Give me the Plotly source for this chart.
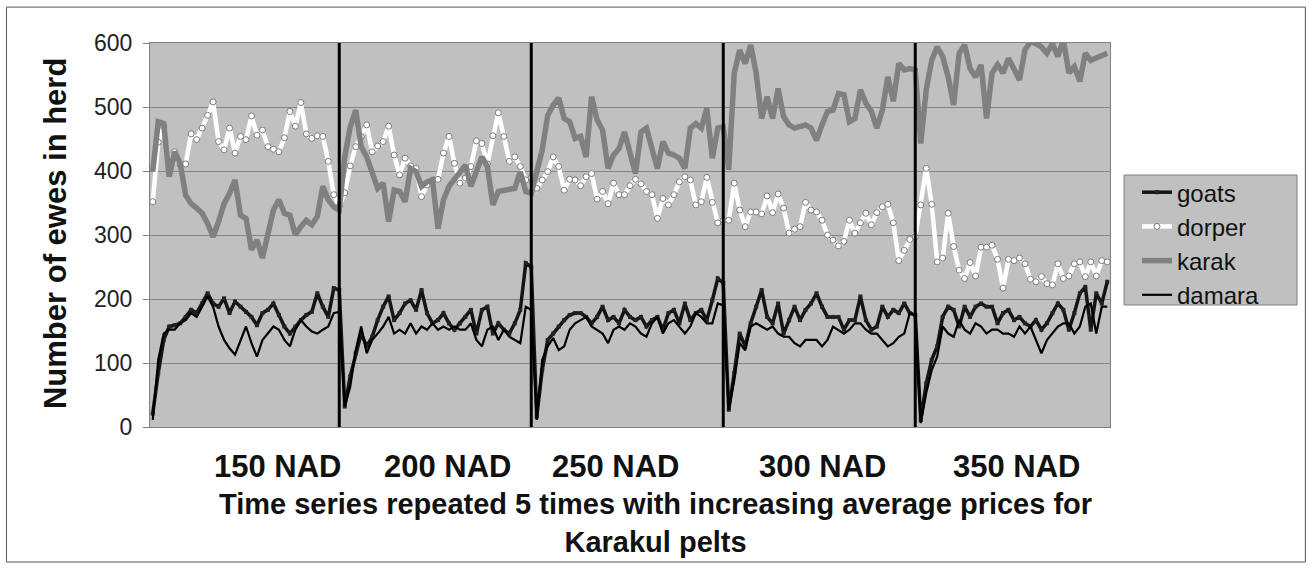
import plotly.graph_objects as go

# ---- data (5 repeated time series of 35 steps each) ----
SEG_LEN = 35
price_labels = ["150 NAD", "200 NAD", "250 NAD", "300 NAD", "350 NAD"]

goats = [
    21, 84, 136, 157, 159, 162, 172, 183, 178, 193, 209, 193, 188, 201, 178, 196, 188, 180, 172, 159, 178, 183, 193, 175, 157, 146, 157, 167, 175, 180, 209, 188, 172, 217, 214,
    32, 79, 115, 146, 126, 141, 167, 188, 204, 167, 178, 193, 198, 183, 214, 178, 162, 167, 178, 162, 152, 162, 172, 183, 146, 183, 188, 146, 162, 152, 146, 162, 183, 256, 250,
    16, 89, 136, 146, 157, 167, 175, 178, 178, 172, 162, 172, 188, 167, 172, 162, 183, 172, 167, 172, 157, 167, 172, 152, 178, 183, 162, 193, 167, 178, 183, 167, 198, 232, 225,
    27, 84, 146, 126, 162, 188, 214, 172, 162, 193, 146, 167, 188, 167, 183, 193, 209, 188, 172, 172, 172, 152, 167, 167, 204, 167, 152, 157, 188, 172, 183, 178, 193, 178, 175,
    11, 68, 105, 126, 172, 188, 183, 157, 188, 172, 188, 193, 188, 188, 162, 178, 183, 167, 172, 162, 157, 167, 152, 162, 178, 193, 183, 152, 178, 209, 219, 152, 209, 193, 227,
]

dorper = [
    352, 445, 470, 400, 430, 410, 411, 458, 449, 467, 487, 508, 446, 433, 467, 428, 454, 449, 486, 456, 464, 438, 434, 430, 452, 493, 470, 507, 458, 451, 455, 454, 415, 363, 345,
    366, 408, 438, 454, 472, 430, 439, 446, 470, 425, 394, 420, 408, 404, 360, 378, 386, 387, 428, 454, 412, 381, 389, 407, 447, 443, 411, 455, 491, 454, 415, 422, 407, 386, 390,
    373, 386, 399, 422, 407, 370, 387, 386, 377, 391, 396, 356, 368, 349, 381, 363, 363, 377, 387, 380, 368, 363, 326, 357, 347, 363, 383, 391, 386, 347, 352, 390, 351, 319, 323,
    323, 381, 339, 313, 336, 336, 333, 361, 335, 364, 342, 303, 309, 313, 351, 339, 336, 323, 300, 292, 283, 290, 323, 303, 319, 334, 316, 335, 344, 348, 319, 260, 276, 293, 297,
    347, 404, 348, 258, 264, 334, 282, 245, 232, 257, 236, 281, 281, 284, 262, 217, 262, 260, 264, 255, 231, 227, 235, 224, 222, 255, 232, 236, 255, 258, 235, 258, 236, 260, 258,
]

karak = [
    399, 477, 474, 391, 430, 412, 362, 349, 342, 334, 318, 297, 321, 349, 365, 386, 331, 326, 277, 292, 264, 303, 339, 355, 334, 331, 300, 313, 323, 316, 329, 376, 355, 344, 339,
    422, 469, 495, 438, 422, 396, 373, 381, 321, 370, 368, 352, 404, 399, 376, 383, 386, 310, 355, 376, 386, 396, 409, 376, 402, 422, 407, 347, 368, 370, 370, 373, 399, 368, 365,
    402, 433, 487, 503, 514, 482, 477, 451, 454, 422, 516, 480, 464, 404, 425, 435, 461, 430, 396, 461, 467, 435, 404, 446, 428, 425, 420, 404, 467, 474, 467, 498, 420, 467, 469,
    402, 553, 589, 568, 597, 553, 482, 516, 482, 529, 485, 472, 467, 469, 472, 467, 448, 472, 493, 495, 521, 519, 477, 482, 527, 506, 493, 467, 495, 547, 509, 568, 558, 560, 558,
    443, 527, 573, 594, 579, 547, 503, 584, 597, 560, 547, 566, 482, 553, 566, 553, 576, 558, 542, 589, 602, 599, 594, 584, 599, 579, 605, 553, 563, 540, 584, 573, 576, 581, 584,
]

damara = [
    11, 105, 146, 152, 152, 162, 167, 178, 172, 188, 204, 188, 157, 136, 123, 113, 136, 157, 131, 110, 136, 146, 157, 152, 136, 126, 152, 167, 157, 149, 146, 152, 157, 178, 180,
    32, 63, 120, 157, 115, 136, 146, 157, 172, 146, 152, 146, 162, 146, 157, 152, 162, 152, 157, 152, 157, 152, 152, 162, 136, 126, 152, 157, 136, 152, 141, 136, 131, 188, 183,
    11, 105, 126, 139, 120, 126, 152, 162, 167, 172, 157, 152, 146, 131, 152, 157, 152, 162, 157, 146, 141, 162, 172, 146, 162, 167, 157, 146, 157, 178, 172, 162, 162, 193, 190,
    27, 73, 131, 120, 157, 162, 157, 152, 157, 146, 141, 141, 131, 126, 136, 136, 136, 126, 136, 157, 152, 146, 152, 162, 162, 152, 146, 146, 136, 126, 131, 141, 146, 178, 175,
    6, 53, 89, 110, 157, 146, 141, 167, 152, 146, 162, 157, 146, 152, 152, 146, 146, 141, 157, 146, 157, 136, 115, 136, 146, 157, 162, 162, 146, 157, 188, 193, 146, 188, 188,
]

y_ticks = [0, 100, 200, 300, 400, 500, 600]

# ---- figure ----
n = len(goats)
t = list(range(n))
FONT = "Liberation Sans, Arial, sans-serif"

fig = go.Figure()
fig.add_trace(go.Scatter(x=t, y=goats, name="goats", mode="lines+markers",
                         line=dict(color="#141414", width=3.5),
                         marker=dict(symbol="square", size=4, color="#222222")))
fig.add_trace(go.Scatter(x=t, y=dorper, name="dorper", mode="lines+markers",
                         line=dict(color="#ffffff", width=4.5),
                         marker=dict(symbol="circle", size=6, color="#ffffff",
                                     line=dict(color="#7a7a7a", width=1))))
fig.add_trace(go.Scatter(x=t, y=karak, name="karak", mode="lines",
                         line=dict(color="#808080", width=5.5)))
fig.add_trace(go.Scatter(x=t, y=damara, name="damara", mode="lines",
                         line=dict(color="#000000", width=2.2)))

shapes = []
# segment separators at the end of each repeated series
for k in range(1, len(price_labels)):
    xb = k * SEG_LEN - 1
    shapes.append(dict(type="line", xref="x", yref="paper", x0=xb, x1=xb, y0=0, y1=1,
                       line=dict(color="#000000", width=3)))
# outer frame around the whole figure
shapes.append(dict(type="rect", xref="paper", yref="paper", x0=-0.1495, x1=1.2035,
                   y0=-0.3515, y1=1.0935, line=dict(color="#555555", width=1), layer="below"))
# legend box
shapes.append(dict(type="rect", xref="paper", yref="paper", x0=1.0146, x1=1.1948,
                   y0=0.3177, y1=0.6562, fillcolor="#c0c0c0",
                   line=dict(color="#7f7f7f", width=1), layer="below"))

label_x = [22.8, 53.8, 84.4, 122.2, 157.5]
annotations = []
for lx, lab in zip(label_x, price_labels):
    annotations.append(dict(x=lx, y=-0.104, xref="x", yref="paper", text=f"<b>{lab}</b>",
                            showarrow=False, xanchor="center", yanchor="middle",
                            font=dict(family=FONT, size=31, color="#111111")))
annotations.append(dict(x=0.527, y=-0.25, xref="paper", yref="paper",
                        text="<b>Time series repeated 5 times with increasing average prices for</b>"
                             "<br><b>Karakul pelts</b>",
                        showarrow=False, xanchor="center", yanchor="middle",
                        font=dict(family=FONT, size=29, color="#111111")))
annotations.append(dict(x=-0.099, y=0.505, xref="paper", yref="paper",
                        text="<b>Number of ewes in herd</b>", textangle=-90,
                        showarrow=False, xanchor="center", yanchor="middle",
                        font=dict(family=FONT, size=31, color="#111111")))

fig.update_layout(
    width=1314, height=569, autosize=False,
    margin=dict(l=150, r=204, t=43, b=142, pad=0),
    paper_bgcolor="#ffffff", plot_bgcolor="#c0c0c0",
    font=dict(family=FONT, color="#111111"),
    shapes=shapes, annotations=annotations,
    showlegend=True,
    legend=dict(x=1.0281, y=0.669, xanchor="left", yanchor="top",
                bgcolor="rgba(0,0,0,0)", borderwidth=0,
                font=dict(family=FONT, size=24, color="#111111"),
                tracegroupgap=0),
    xaxis=dict(range=[-0.5, n - 0.5], showticklabels=False, showgrid=False,
               zeroline=False, showline=True, linecolor="#808080", linewidth=1,
               mirror=True, ticks=""),
    yaxis=dict(range=[0, 600], tickvals=y_ticks, showgrid=True, gridcolor="#858585",
               gridwidth=1, zeroline=False, showline=True, linecolor="#808080",
               linewidth=1, mirror=True, ticks="outside", ticklen=6, tickcolor="#808080",
               tickfont=dict(family=FONT, size=23, color="#222222"),
               ticklabelstandoff=6),
)

fig.write_html("out.html", config={"displayModeBar": False},
               post_script="document.body.style.margin='0px';")
